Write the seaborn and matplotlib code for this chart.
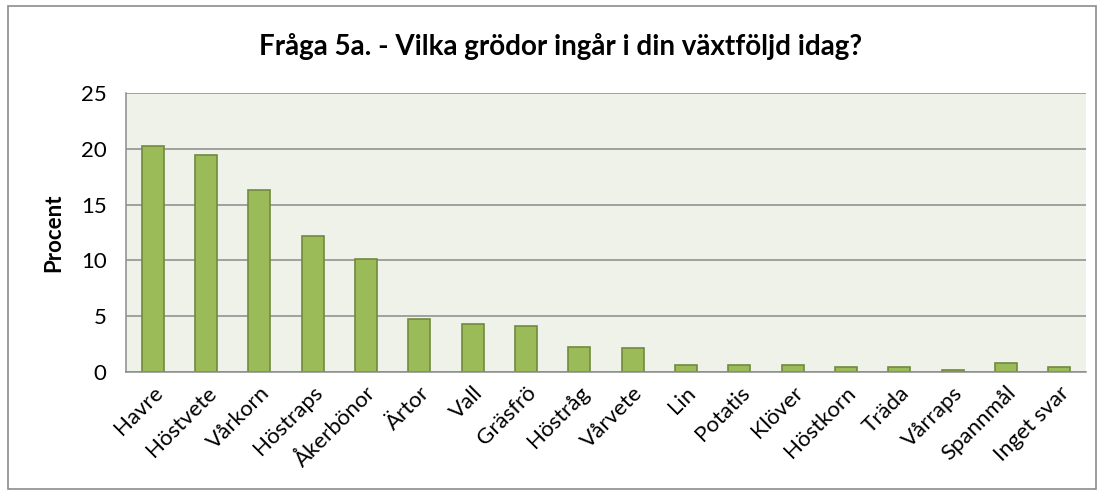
import numpy as np
import pandas as pd
import matplotlib
matplotlib.use("Agg")
import matplotlib.pyplot as plt
import matplotlib.transforms as mtransforms
from matplotlib.patches import Rectangle
import seaborn as sns

# Data
crops = ["Havre", "Höstvete", "Vårkorn", "Höstraps", "Åkerbönor", "Ärtor", "Vall",
         "Gräsfrö", "Höstråg", "Vårvete", "Lin", "Potatis", "Klöver", "Höstkorn",
         "Träda", "Vårraps", "Spannmål", "Inget svar"]
percent = [20.3, 19.5, 16.3, 12.2, 10.1, 4.7, 4.3, 4.1, 2.2, 2.1, 0.6, 0.6, 0.6,
           0.4, 0.4, 0.2, 0.8, 0.4]
y_ticks = [0, 5, 10, 15, 20, 25]

title = "Fråga 5a. - Vilka grödor ingår i din växtföljd idag?"

df = pd.DataFrame({"crop": crops, "percent": percent})

sns.set_theme(style="white", rc={"text.color": "black", "axes.labelcolor": "black",
                                 "xtick.color": "black", "ytick.color": "black"})
plt.rcParams["font.family"] = ["Lato", "DejaVu Sans"]

fig = plt.figure(figsize=(11.02, 4.95), dpi=100)
ax = fig.add_axes([0.1143, 0.249, 0.8712, 0.5625])

sns.barplot(data=df, x="crop", y="percent", ax=ax, color="#9BBB59",
            saturation=1, width=0.41, edgecolor="#71893F", linewidth=1.2)

ax.set_facecolor("#EEF2E8")
ax.set_ylim(0, 25)
ax.set_xlim(-0.5, len(crops) - 0.5)
ax.set_yticks(y_ticks)
ax.yaxis.grid(True, color="#8C8C8C", linewidth=1.1)
ax.set_axisbelow(True)

for side in ["top", "right"]:
    ax.spines[side].set_visible(False)
for side in ["left", "bottom"]:
    ax.spines[side].set_color("#8C8C8C")
    ax.spines[side].set_linewidth(1.1)

# tick marks between categories, like the original
ax.set_xticks(np.arange(-0.5, len(crops), 1), minor=True)
ax.tick_params(axis="x", which="minor", length=7, width=1, color="#8C8C8C", direction="out")
ax.tick_params(axis="x", which="major", length=0, pad=13)
ax.tick_params(axis="y", length=6, width=1, color="#8C8C8C", direction="out",
               labelsize=16, pad=8, labelcolor="black")

ax.set_xticks(range(len(crops)))
ax.set_xticklabels(crops, rotation=45, ha="right", va="center",
                   rotation_mode="anchor", fontsize=16, color="black")
shift = mtransforms.ScaledTranslation(5 / 72, 0, fig.dpi_scale_trans)
for lbl in ax.get_xticklabels():
    lbl.set_transform(lbl.get_transform() + shift)

ax.set_xlabel("")
ax.set_ylabel("Procent", fontsize=16, fontweight="bold", labelpad=12, color="black")

fig.text(0.509, 0.906, title, ha="center", va="center", fontsize=20,
         fontweight="bold", color="black")

fig.patches.append(Rectangle((0.007, 0.012), 0.988, 0.976, transform=fig.transFigure,
                             fill=False, edgecolor="#8C8C8C", linewidth=1.2))

fig.savefig("out.png", dpi=100)
